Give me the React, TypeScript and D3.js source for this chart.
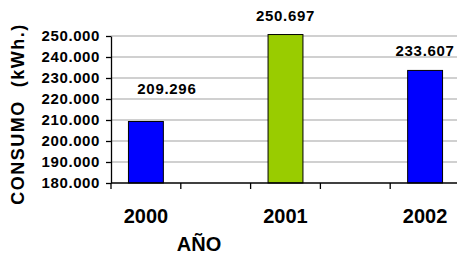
import React, { useEffect, useRef } from 'react';
import * as d3 from 'd3';

// categories (blank slots are empty year columns in the original sheet)
const years = ['2000', '', '2001', '', '2002'];
const consumo: (number | null)[] = [209296, null, 250697, null, 233607];
const barColors = ['#0000ff', null, '#99cc00', null, '#0000ff'];
const yTicks = [180000, 190000, 200000, 210000, 220000, 230000, 240000, 250000];

// the 2000 label sits higher and to the right in the original
const labelNudge: [number, number][] = [[21, -13], [0, 0], [0, 0], [0, 0], [0, 0]];

const locale = d3.formatLocale({ decimal: ',', thousands: '.', grouping: [3], currency: ['', ''] });
const fmt = locale.format(',');

const FONT = '"Liberation Sans", Arial, sans-serif';

const App: React.FC = () => {
  const svgRef = useRef<SVGSVGElement | null>(null);

  useEffect(() => {
    if (!svgRef.current) return;
    const width = 457;
    const height = 259;
    const margin = { top: 36, right: -3, bottom: 76, left: 111 };

    const svg = d3.select(svgRef.current).attr('width', width).attr('height', height).html('');
    svg.append('rect').attr('width', width).attr('height', height).attr('fill', '#fff');

    const x = d3.scaleBand<number>()
      .domain(years.map((_, i) => i))
      .range([margin.left, width - margin.right])
      .padding(0);

    const y = d3.scaleLinear()
      .domain([180000, 250000])
      .range([height - margin.bottom, margin.top]);

    // gridlines
    svg.append('g')
      .selectAll('line')
      .data(yTicks.slice(1))
      .enter()
      .append('line')
      .attr('x1', margin.left)
      .attr('x2', width)
      .attr('y1', d => y(d))
      .attr('y2', d => y(d))
      .attr('stroke', '#c0c0c0')
      .attr('stroke-width', 1.5);

    // bars
    const bw = x.bandwidth() * 0.5;
    svg.append('g')
      .selectAll('rect')
      .data(consumo.map((v, i) => ({ v, i })).filter(d => d.v !== null))
      .enter()
      .append('rect')
      .attr('x', d => (x(d.i) as number) + (x.bandwidth() - bw) / 2)
      .attr('y', d => y(d.v as number))
      .attr('width', bw)
      .attr('height', d => y(180000) - y(d.v as number))
      .attr('fill', d => barColors[d.i] as string)
      .attr('stroke', '#000')
      .attr('stroke-width', 1);

    // value labels
    svg.append('g')
      .selectAll('text')
      .data(consumo.map((v, i) => ({ v, i })).filter(d => d.v !== null))
      .enter()
      .append('text')
      .attr('x', d => (x(d.i) as number) + x.bandwidth() / 2 + labelNudge[d.i][0])
      .attr('y', d => y(d.v as number) - 14 + labelNudge[d.i][1])
      .attr('text-anchor', 'middle')
      .attr('font-family', FONT)
      .attr('font-weight', 'bold')
      .attr('font-size', 15)
      .attr('letter-spacing', 0.7)
      .attr('fill', '#000')
      .text(d => fmt(d.v as number));

    // y axis
    const yAxis = d3.axisLeft(y).tickValues(yTicks).tickFormat(d => fmt(d as number)).tickSize(5).tickSizeOuter(0);
    const gy = svg.append('g').attr('transform', `translate(${margin.left},0)`).call(yAxis);
    gy.select('.domain').attr('stroke', '#000').attr('stroke-width', 1.3);
    gy.selectAll('.tick line').attr('stroke', '#000').attr('stroke-width', 1.3);
    gy.selectAll('.tick text')
      .attr('x', -11)
      .attr('font-family', FONT)
      .attr('font-weight', 'bold')
      .attr('font-size', 15)
      .attr('letter-spacing', 0.6)
      .attr('fill', '#000');

    // x axis: ticks on band boundaries
    const xBase = y(180000);
    svg.append('line')
      .attr('x1', margin.left).attr('x2', width)
      .attr('y1', xBase).attr('y2', xBase)
      .attr('stroke', '#000').attr('stroke-width', 1.3);
    svg.append('g')
      .selectAll('line')
      .data(years.map((_, i) => i))
      .enter()
      .append('line')
      .attr('x1', d => x(d) as number)
      .attr('x2', d => x(d) as number)
      .attr('y1', xBase)
      .attr('y2', xBase + 6)
      .attr('stroke', '#000')
      .attr('stroke-width', 1.3);

    svg.append('g')
      .selectAll('text')
      .data(years.map((t, i) => ({ t, i })).filter(d => d.t !== ''))
      .enter()
      .append('text')
      .attr('x', d => (x(d.i) as number) + x.bandwidth() / 2)
      .attr('y', xBase + 40)
      .attr('text-anchor', 'middle')
      .attr('font-family', FONT)
      .attr('font-weight', 'bold')
      .attr('font-size', 20)
      .attr('fill', '#000')
      .text(d => d.t);

    // axis titles
    svg.append('text')
      .attr('x', 199)
      .attr('y', 251)
      .attr('text-anchor', 'middle')
      .attr('font-family', FONT)
      .attr('font-weight', 'bold')
      .attr('font-size', 20)
      .attr('fill', '#000')
      .text('AÑO');

    svg.append('text')
      .attr('transform', `translate(24,114) rotate(-90)`)
      .attr('text-anchor', 'middle')
      .attr('font-family', FONT)
      .attr('font-weight', 'bold')
      .attr('font-size', 18)
      .attr('letter-spacing', 1.5)
      .attr('fill', '#000')
      .attr('xml:space', 'preserve')
      .style('white-space', 'pre')
      .text('CONSUMO  (kWh.)');
  }, []);

  return (
    <div style={{ position: 'fixed', top: 0, left: 0 }}>
      <svg ref={svgRef} style={{ display: 'block' }}></svg>
    </div>
  );
};

export default App;
